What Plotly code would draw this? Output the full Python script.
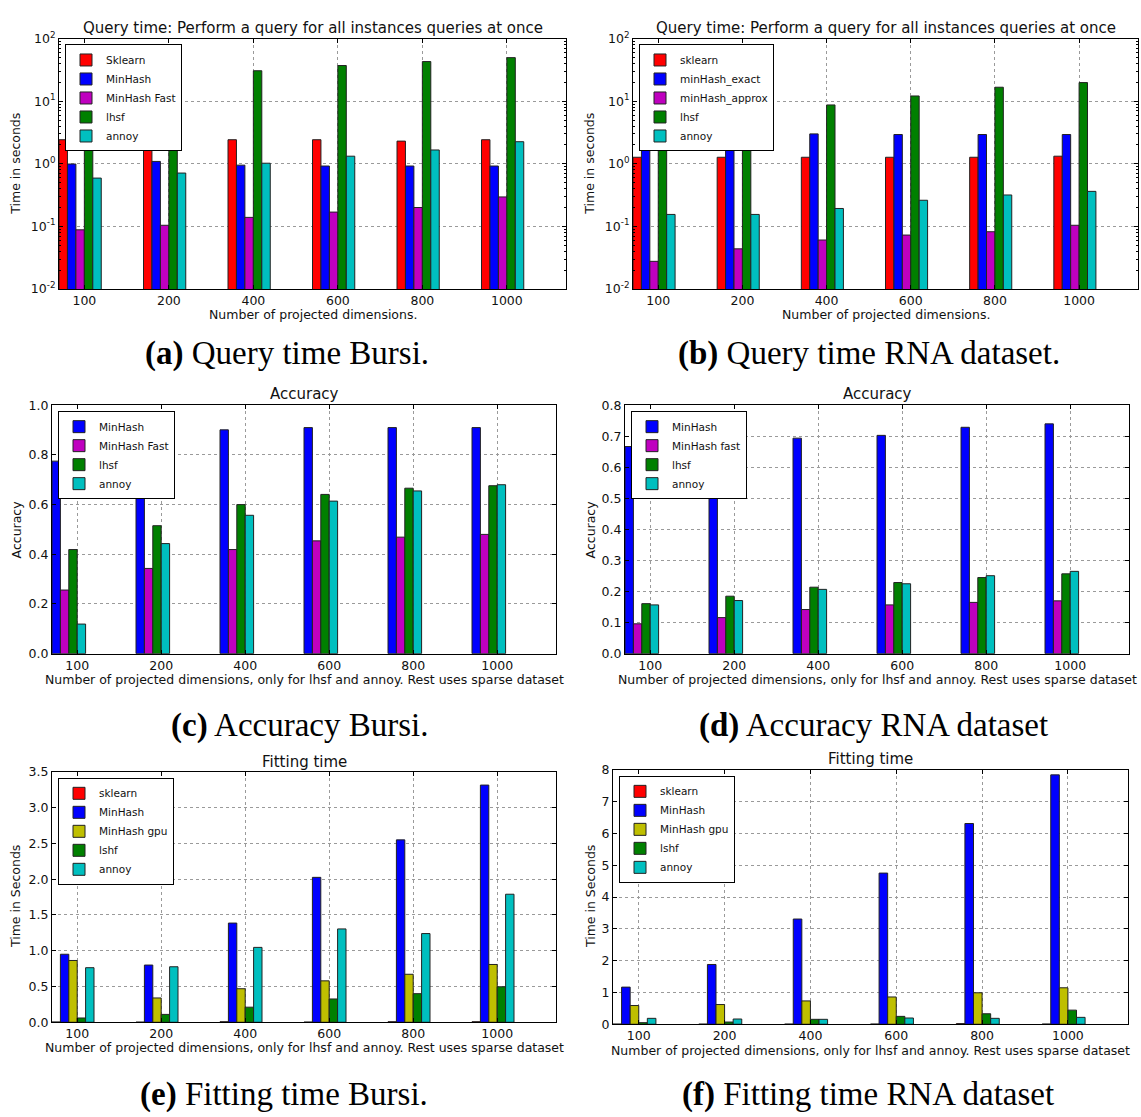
import plotly.graph_objects as go

W, H = 1141, 1117

# ---------------- data ----------------
dims = ["100", "200", "400", "600", "800", "1000"]

# (a) Query time Bursi (seconds, log scale)
qa_sklearn = [2.42, 2.42, 2.42, 2.42, 2.30, 2.42]
qa_minhash = [0.99, 1.09, 0.95, 0.92, 0.92, 0.92]
qa_minhash_fast = [0.088, 0.104, 0.139, 0.169, 0.20, 0.295]
qa_lhsf = [20.0, 25.8, 30.6, 37.1, 42.9, 49.6]
qa_annoy = [0.59, 0.71, 1.02, 1.32, 1.66, 2.25]

# (b) Query time RNA dataset (seconds, log scale)
qb_sklearn = [1.27, 1.27, 1.27, 1.27, 1.27, 1.32]
qb_minhash_exact = [4.6, 3.11, 3.0, 2.93, 2.93, 2.93]
qb_minhash_approx = [0.0276, 0.0437, 0.0605, 0.0726, 0.082, 0.104]
qb_lhsf = [5.5, 6.5, 8.7, 12.1, 16.7, 19.8]
qb_annoy = [0.155, 0.155, 0.193, 0.261, 0.317, 0.362]

# (c) Accuracy Bursi
ac_minhash = [0.775, 0.85, 0.901, 0.910, 0.910, 0.910]
ac_minhash_fast = [0.256, 0.343, 0.419, 0.454, 0.469, 0.480]
ac_lhsf = [0.419, 0.515, 0.600, 0.641, 0.666, 0.676]
ac_annoy = [0.119, 0.443, 0.557, 0.614, 0.655, 0.680]

# (d) Accuracy RNA dataset
ad_minhash = [0.667, 0.68, 0.694, 0.703, 0.729, 0.740]
ad_minhash_fast = [0.096, 0.116, 0.142, 0.157, 0.165, 0.170]
ad_lhsf = [0.161, 0.185, 0.214, 0.229, 0.245, 0.257]
ad_annoy = [0.157, 0.171, 0.207, 0.225, 0.251, 0.265]

# (e) Fitting time Bursi (seconds)
fe_sklearn = [0.004, 0.002, 0.008, 0.003, 0.008, 0.008]
fe_minhash = [0.951, 0.80, 1.387, 2.026, 2.55, 3.316]
fe_minhash_gpu = [0.864, 0.34, 0.469, 0.579, 0.671, 0.808]
fe_lshf = [0.060, 0.11, 0.211, 0.326, 0.40, 0.496]
fe_annoy = [0.763, 0.776, 1.047, 1.305, 1.24, 1.79]

# (f) Fitting time RNA dataset (seconds)
ff_sklearn = [0.005, 0.004, 0.005, 0.006, 0.02, 0.006]
ff_minhash = [1.168, 1.88, 3.31, 4.755, 6.315, 7.845]
ff_minhash_gpu = [0.589, 0.62, 0.734, 0.858, 0.99, 1.147]
ff_lshf = [0.05, 0.07, 0.155, 0.248, 0.33, 0.444]
ff_annoy = [0.186, 0.165, 0.155, 0.196, 0.186, 0.217]

log_exponents = [-2, -1, 0, 1, 2]

# ---------------- style ----------------
RED, BLUE, MAG, GRN, CYN, YEL = "#ff0000", "#0000ff", "#bf00bf", "#008000", "#00bfbf", "#bfbf00"
SANS = "DejaVu Sans"
SERIF = "Liberation Serif"
BAR_W = 0.1
TICK_OFF = 0.3

XL_LONG = "Number of projected dimensions, only for lhsf and annoy. Rest uses sparse dataset"
XL_SHORT = "Number of projected dimensions."
QT_TITLE = "Query time: Perform a query for all instances queries at once"

panels = [
    dict(series=[("Sklearn", qa_sklearn, RED), ("MinHash", qa_minhash, BLUE),
                 ("MinHash Fast", qa_minhash_fast, MAG), ("lhsf", qa_lhsf, GRN), ("annoy", qa_annoy, CYN)],
         box=(59, 566, 30, 284), log=True, title=QT_TITLE, title_y=19,
         ylabel="Time in seconds", ylabel_x=16, xlabel=XL_SHORT, xlabel_y=310,
         caption=("(a)", "Query time Bursi."), cap_x=287, cap_y=350),
    dict(series=[("sklearn", qb_sklearn, RED), ("minHash_exact", qb_minhash_exact, BLUE),
                 ("minHash_approx", qb_minhash_approx, MAG), ("lhsf", qb_lhsf, GRN), ("annoy", qb_annoy, CYN)],
         box=(633, 1138, 30, 284), log=True, title=QT_TITLE, title_y=19,
         ylabel="Time in seconds", ylabel_x=590, xlabel=XL_SHORT, xlabel_y=310,
         caption=("(b)", "Query time RNA dataset."), cap_x=869, cap_y=350),
    dict(series=[("MinHash", ac_minhash, BLUE), ("MinHash Fast", ac_minhash_fast, MAG),
                 ("lhsf", ac_lhsf, GRN), ("annoy", ac_annoy, CYN)],
         box=(52, 556, 402, 654), log=False, yrange=[0, 1.0], dtick=0.2, fmt=".1f",
         title="Accuracy", title_y=391,
         ylabel="Accuracy", ylabel_x=16, xlabel=XL_LONG, xlabel_y=680,
         caption=("(c)", "Accuracy Bursi."), cap_x=300, cap_y=727),
    dict(series=[("MinHash", ad_minhash, BLUE), ("MinHash fast", ad_minhash_fast, MAG),
                 ("lhsf", ad_lhsf, GRN), ("annoy", ad_annoy, CYN)],
         box=(625, 1129, 402, 654), log=False, yrange=[0, 0.8], dtick=0.1, fmt=".1f",
         title="Accuracy", title_y=391,
         ylabel="Accuracy", ylabel_x=590, xlabel=XL_LONG, xlabel_y=680,
         caption=("(d)", "Accuracy RNA dataset"), cap_x=873, cap_y=727),
    dict(series=[("sklearn", fe_sklearn, RED), ("MinHash", fe_minhash, BLUE), ("MinHash gpu", fe_minhash_gpu, YEL),
                 ("lshf", fe_lshf, GRN), ("annoy", fe_annoy, CYN)],
         box=(52, 556, 774, 1028), log=False, yrange=[0, 3.5], dtick=0.5, fmt=".1f",
         title="Fitting time", title_y=764,
         ylabel="Time in Seconds", ylabel_x=15, xlabel=XL_LONG, xlabel_y=1054,
         caption=("(e)", "Fitting time Bursi."), cap_x=284, cap_y=1101),
    dict(series=[("sklearn", ff_sklearn, RED), ("MinHash", ff_minhash, BLUE), ("MinHash gpu", ff_minhash_gpu, YEL),
                 ("lshf", ff_lshf, GRN), ("annoy", ff_annoy, CYN)],
         box=(613, 1128, 772, 1030), log=False, yrange=[0, 8], dtick=1, fmt="d",
         title="Fitting time", title_y=761,
         ylabel="Time in Seconds", ylabel_x=590, xlabel=XL_LONG, xlabel_y=1057,
         caption=("(f)", "Fitting time RNA dataset"), cap_x=868, cap_y=1101),
]


def fx(p):
    return p / W


def fy(p):
    return 1 - p / H


fig = go.Figure()
layout = dict(
    width=W, height=H, margin=dict(l=0, r=0, t=0, b=0),
    paper_bgcolor="white", plot_bgcolor="white", barmode="overlay",
    font=dict(family=SANS, size=12, color="#111"),
    showlegend=True,
)
annotations = []

groups = list(range(len(dims)))
for i, p in enumerate(panels, start=1):
    xname = "x" if i == 1 else f"x{i}"
    yname = "y" if i == 1 else f"y{i}"
    lname = "legend" if i == 1 else f"legend{i}"
    x0, x1, y0, y1 = p["box"]
    for k, (name, vals, color) in enumerate(p["series"]):
        fig.add_trace(go.Bar(
            x=[g + k * BAR_W for g in groups], y=vals, width=BAR_W, offset=0,
            name=name, marker=dict(color=color, line=dict(color="#222", width=1)),
            xaxis=xname, yaxis=yname, legend=lname,
        ))
    common = dict(showline=True, linecolor="black", linewidth=1, mirror="ticks",
                  ticks="inside", ticklen=4, tickcolor="black",
                  showgrid=True, gridcolor="#9a9a9a", griddash="dot", gridwidth=1,
                  zeroline=False, tickfont=dict(family=SANS, size=12.5, color="#111"))
    layout["xaxis" if i == 1 else f"xaxis{i}"] = dict(
        common, domain=[fx(x0), fx(x1)], anchor=yname, range=[0, len(dims)],
        tickvals=[g + TICK_OFF for g in groups], ticktext=dims,
    )
    if p["log"]:
        yax = dict(common, type="log", range=[-2, 2],
                   tickvals=[10.0 ** e for e in log_exponents],
                   ticktext=[f"10<sup>{e}</sup>" for e in log_exponents],
                   minor=dict(ticks="inside", ticklen=2, tickcolor="black", showgrid=False,
                              tickvals=[m * 10.0 ** e for e in log_exponents[:-1] for m in range(2, 10)]))
    else:
        yax = dict(common, range=p["yrange"], dtick=p["dtick"], tick0=0, tickformat=p["fmt"])
    layout["yaxis" if i == 1 else f"yaxis{i}"] = dict(yax, domain=[fy(y1), fy(y0)], anchor=xname)

    layout[lname] = dict(x=fx(x0 + 6), y=fy(y0 + 6), xanchor="left", yanchor="top",
                         bgcolor="white", bordercolor="black", borderwidth=1,
                         font=dict(family=SANS, size=10.5, color="#111"),
                         tracegroupgap=0, itemwidth=30)

    cx = (x0 + x1) / 2
    annotations.append(dict(text=p["title"], x=fx(cx), y=fy(p["title_y"]), xref="paper", yref="paper",
                            xanchor="center", yanchor="middle", showarrow=False,
                            font=dict(family=SANS, size=15, color="#111")))
    annotations.append(dict(text=p["xlabel"], x=fx(cx), y=fy(p["xlabel_y"]), xref="paper", yref="paper",
                            xanchor="center", yanchor="middle", showarrow=False,
                            font=dict(family=SANS, size=12.5, color="#111")))
    annotations.append(dict(text=p["ylabel"], x=fx(p["ylabel_x"]), y=fy((y0 + y1) / 2), xref="paper", yref="paper",
                            xanchor="center", yanchor="middle", showarrow=False, textangle=-90,
                            font=dict(family=SANS, size=12.5, color="#111")))
    tag, cap = p["caption"]
    annotations.append(dict(text=f"<b>{tag}</b> {cap}", x=fx(p["cap_x"]), y=fy(p["cap_y"]),
                            xref="paper", yref="paper", xanchor="center", yanchor="middle",
                            showarrow=False, font=dict(family=SERIF, size=33, color="black")))

layout["annotations"] = annotations
fig.update_layout(**layout)
fig.write_html("out.html", config={"displayModeBar": False},
               post_script="document.body.style.margin='0px';")
